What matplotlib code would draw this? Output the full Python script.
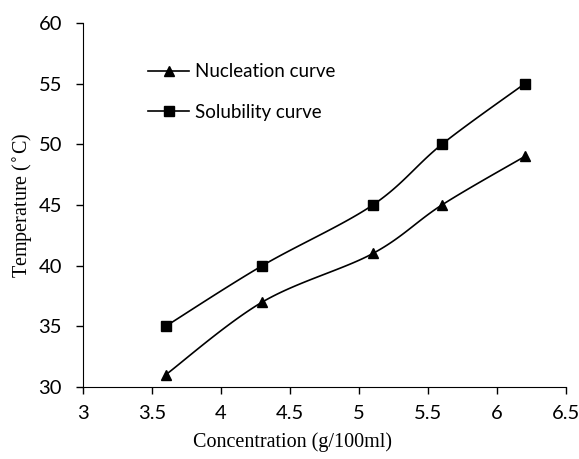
import numpy as np
import matplotlib.pyplot as plt

conc = [3.6, 4.3, 5.1, 5.6, 6.2]
nucleation = [31, 37, 41, 45, 49]
solubility = [35, 40, 45, 50, 55]


def smooth(xs, ys, n=30):
    # excel-style smoothed line (catmull-rom through bezier segments)
    xs = np.asarray(xs, float)
    ys = np.asarray(ys, float)
    px = np.concatenate([[xs[0]], xs, [xs[-1]]])
    py = np.concatenate([[ys[0]], ys, [ys[-1]]])
    outx, outy = [], []
    t = np.linspace(0, 1, n)
    for i in range(1, len(px) - 2):
        p0 = np.array([px[i], py[i]])
        p3 = np.array([px[i + 1], py[i + 1]])
        c1 = p0 + (np.array([px[i + 1], py[i + 1]]) - np.array([px[i - 1], py[i - 1]])) / 6
        c2 = p3 - (np.array([px[i + 2], py[i + 2]]) - np.array([px[i], py[i]])) / 6
        seg = ((1 - t) ** 3)[:, None] * p0 + (3 * (1 - t) ** 2 * t)[:, None] * c1 \
            + (3 * (1 - t) * t ** 2)[:, None] * c2 + (t ** 3)[:, None] * p3
        outx.extend(seg[:, 0])
        outy.extend(seg[:, 1])
    return outx, outy


fig = plt.figure(figsize=(5.79, 4.59), dpi=100)
ax = fig.add_axes([0.143, 0.157, 0.835, 0.793])

for ys, mk, lab in [(nucleation, '^', 'Nucleation curve'), (solubility, 's', 'Solubility curve')]:
    sx, sy = smooth(conc, ys)
    ax.plot(sx, sy, color='black', lw=1.2)
    ax.plot(conc, ys, ls='none', marker=mk, color='black', ms=7)
    ax.plot([], [], color='black', lw=1.2, marker=mk, ms=7, label=lab)

ax.set_xlim(3, 6.5)
ax.set_ylim(30, 60)
ax.set_xticks(np.arange(3, 6.51, 0.5))
ax.set_xticklabels(['3', '3.5', '4', '4.5', '5', '5.5', '6', '6.5'])
ax.set_yticks(range(30, 61, 5))

for s in ['top', 'right']:
    ax.spines[s].set_visible(False)
ax.tick_params(direction='out', length=5, width=1, labelsize=14.5)
ax.tick_params(axis='x', pad=8)
ax.tick_params(axis='y', pad=10)
for lbl in ax.get_xticklabels() + ax.get_yticklabels():
    lbl.set_fontfamily('Lato')

ax.set_xlabel('Concentration (g/100ml)', family='Liberation Serif', fontsize=14.5)
ax.xaxis.set_label_coords(0.433, -0.124)
ax.set_ylabel('Temperature ($^{\\circ}$C)', family='Liberation Serif', fontsize=14.5)
ax.yaxis.set_label_coords(-0.10, 0.5)

ax.legend(loc='center left', bbox_to_anchor=(0.10, 0.81), frameon=False,
          prop={'family': 'Lato', 'size': 13.5}, handlelength=2.2, labelspacing=1.25,
          handletextpad=0.3)

fig.savefig('out.png', dpi=100)
